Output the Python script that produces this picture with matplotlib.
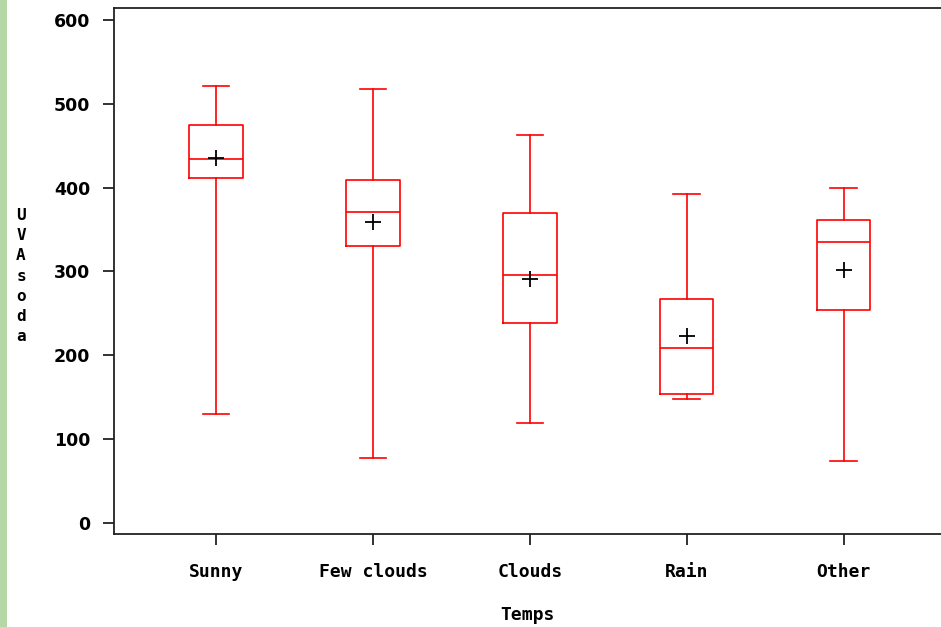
import matplotlib.pyplot as plt
from matplotlib.patches import Rectangle

# values
categories = ["Sunny", "Few clouds", "Clouds", "Rain", "Other"]
whisker_low = [130, 77, 119, 148, 74]
q1 = [411, 330, 238, 154, 254]
medians = [434, 371, 296, 209, 335]
q3 = [474, 409, 370, 267, 361]
whisker_high = [521, 518, 463, 392, 400]
means = [435, 359, 291, 223, 302]
yticks = [0, 100, 200, 300, 400, 500, 600]

stats = []
for i, name in enumerate(categories):
    stats.append({
        "label": name,
        "whislo": whisker_low[i],
        "q1": q1[i],
        "med": medians[i],
        "q3": q3[i],
        "whishi": whisker_high[i],
        "mean": means[i],
        "fliers": [],
    })

fig = plt.figure(figsize=(9.41, 6.27), dpi=100)
fig.patches.append(Rectangle((0, 0), 7 / 941, 1, transform=fig.transFigure,
                             facecolor="#b5d6a5", edgecolor="none"))

ax = fig.add_axes([114 / 941, 93 / 627, 1 - 114 / 941, 526 / 627])

red = dict(color="#ff0000", linewidth=1.2)
ax.bxp(stats, positions=range(1, 6), widths=0.34, showmeans=True,
       boxprops=red, whiskerprops=red, capprops=red, medianprops=red,
       capwidths=0.17,
       meanprops=dict(marker="+", markeredgecolor="black", markersize=11,
                      markeredgewidth=1.3))

ax.set_xlim(0.35, 5.62)
ax.set_ylim(-13, 614)
ax.set_yticks(yticks)
ax.set_yticklabels([str(v) for v in yticks], fontweight="bold", fontsize=12.5,
                   family="DejaVu Sans")
ax.set_xticklabels(categories, fontsize=13, fontweight="bold",
                   family="DejaVu Sans Mono")

ax.spines["right"].set_visible(False)
for side in ["left", "top", "bottom"]:
    ax.spines[side].set_color("#222222")
    ax.spines[side].set_linewidth(1.3)

ax.tick_params(axis="y", direction="out", length=8, width=1.3, pad=9, colors="#222222")
ax.tick_params(axis="x", direction="out", length=8, width=1.3, pad=13, colors="#222222")
for lab in ax.get_xticklabels() + ax.get_yticklabels():
    lab.set_color("black")

ax.set_xlabel("Temps", fontsize=13, fontweight="bold",
              family="DejaVu Sans Mono", labelpad=18)
fig.text(21 / 941, 1 - 276 / 627, "\n".join("UVAsoda"), ha="center", va="center",
         fontsize=11.5, fontweight="bold", family="DejaVu Sans Mono", linespacing=1.43)

fig.savefig("out.png", dpi=100)
